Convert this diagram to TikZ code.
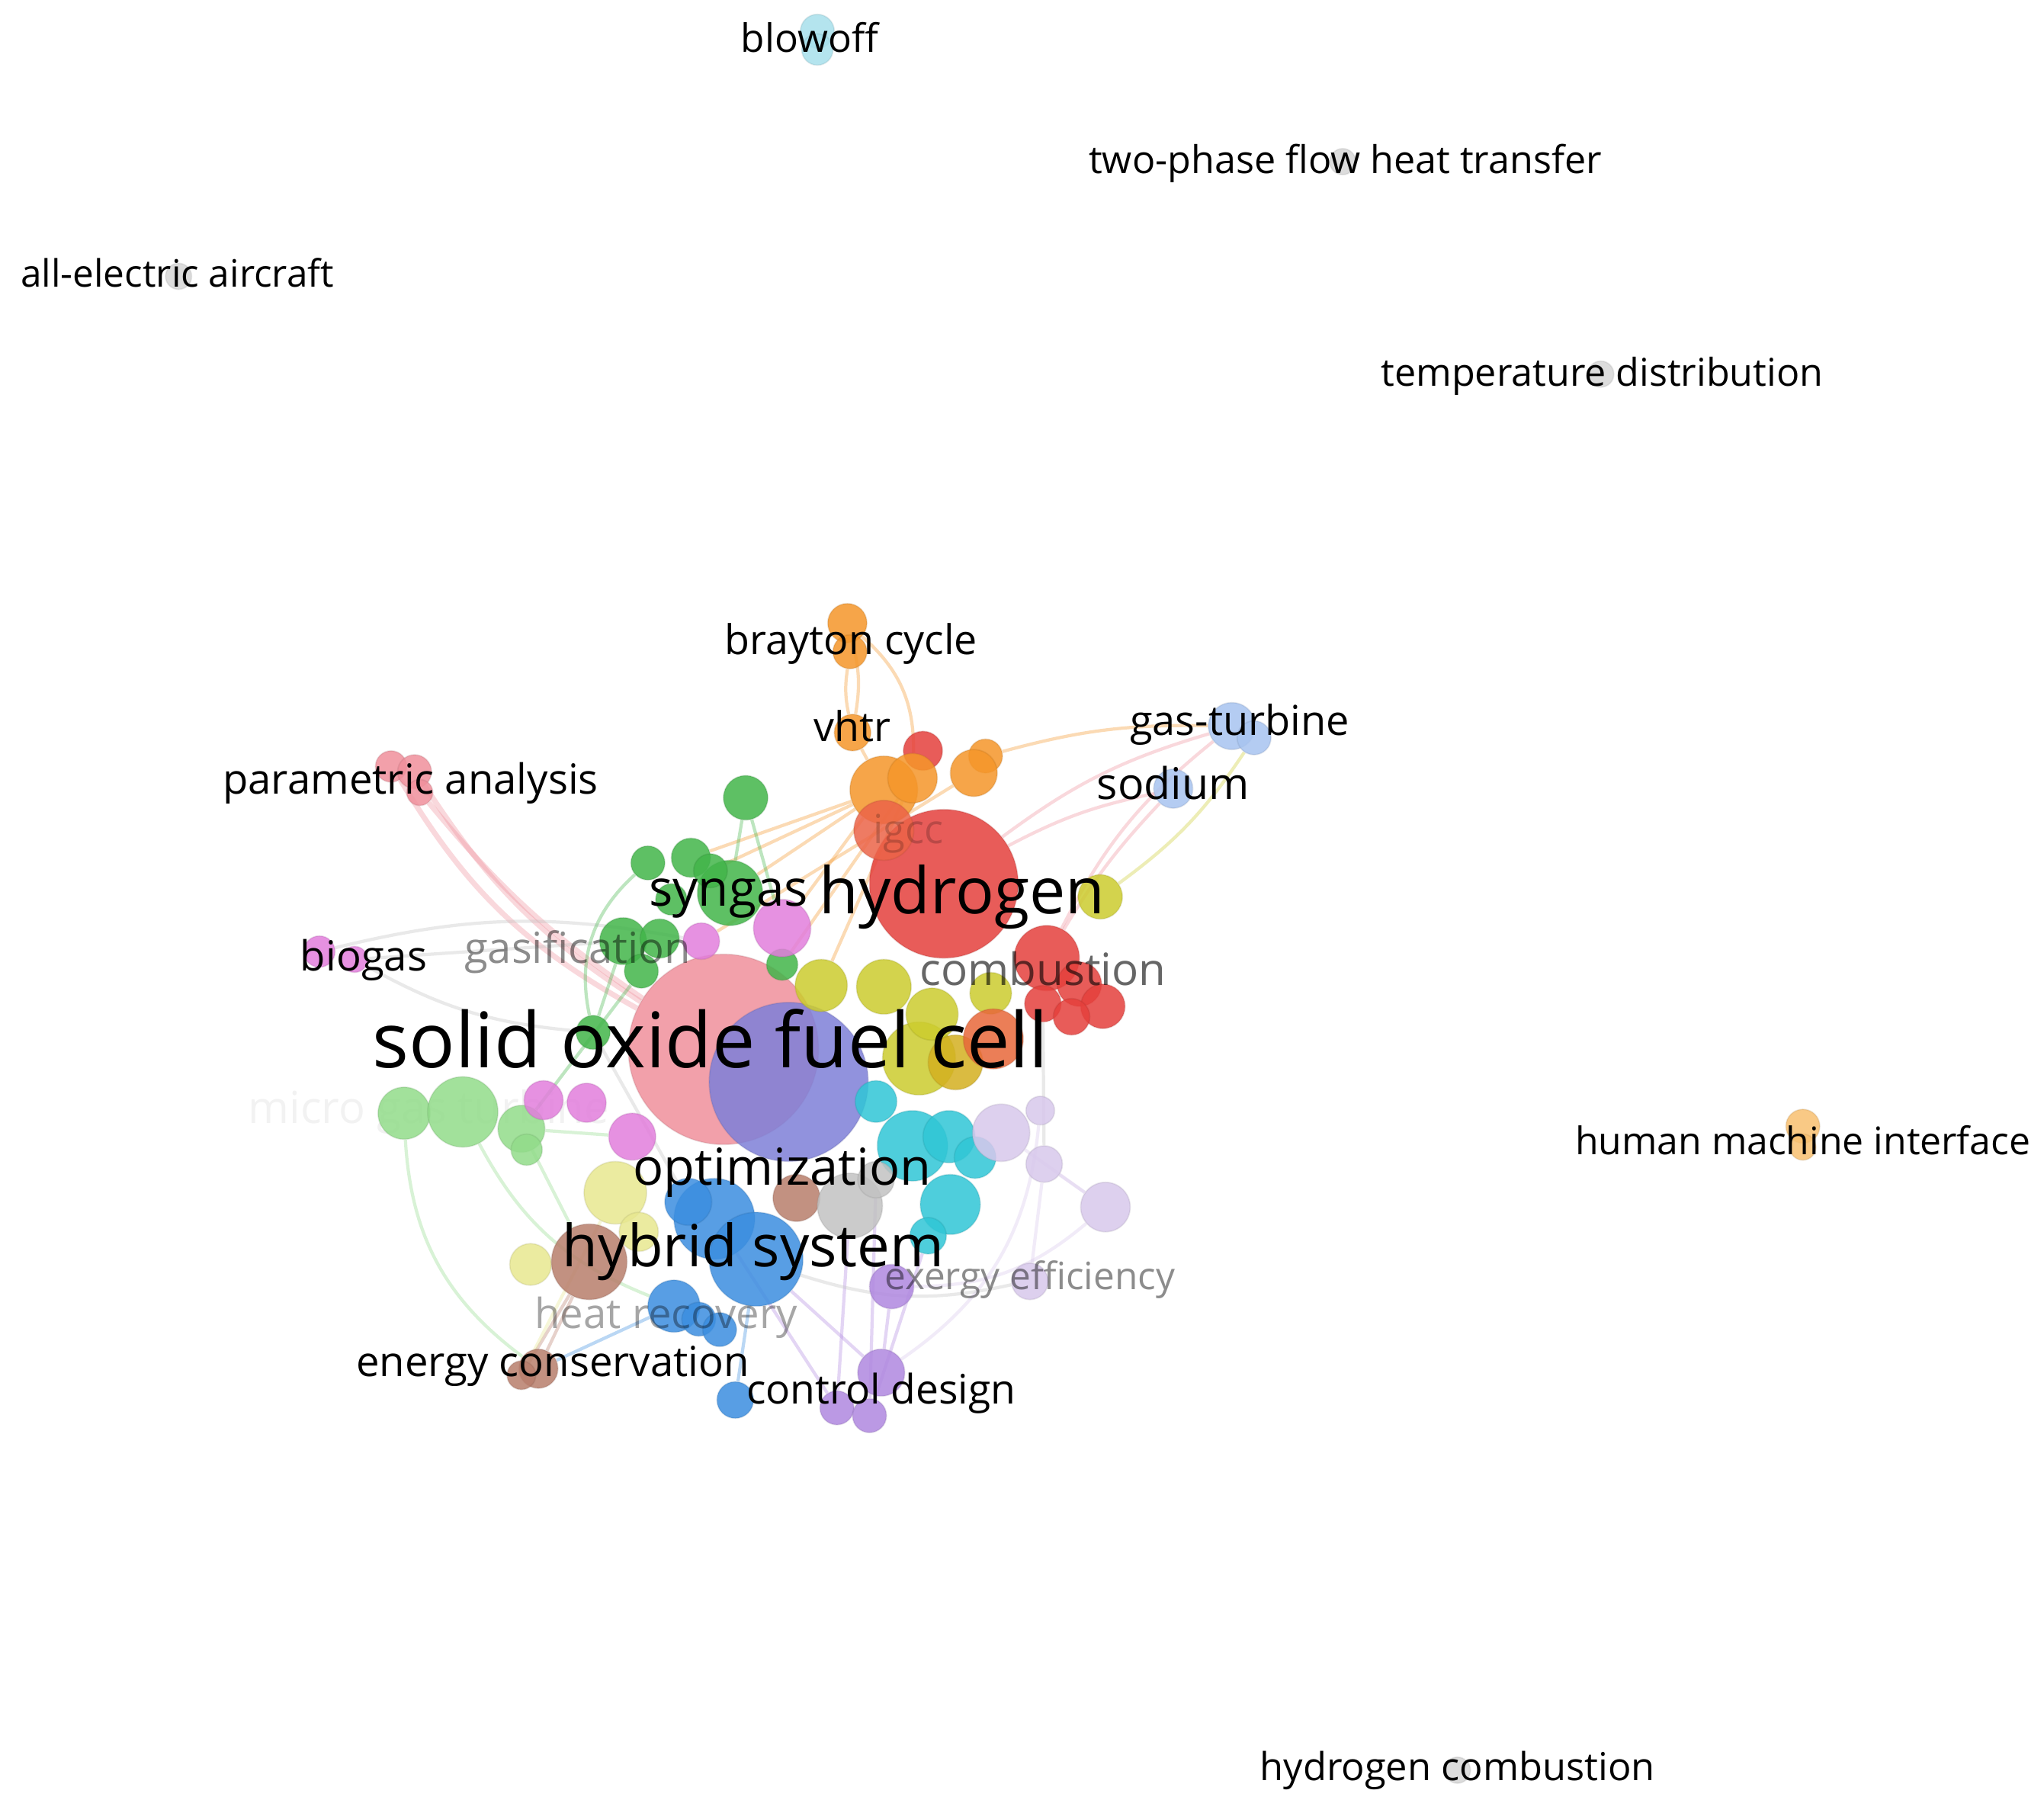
\documentclass[tikz,border=0pt]{standalone}
\usepackage{fontspec}
\setmainfont{Open Sans}
\pgfdeclarelayer{edgelayer}
\pgfsetlayers{edgelayer,main}
\definecolor{cred}{HTML}{E5403C}
\definecolor{cro}{HTML}{E8683A}
\definecolor{cigcc}{HTML}{EC6448}
\definecolor{corange}{HTML}{F5962A}
\definecolor{cgreen}{HTML}{42B54A}
\definecolor{clgreen}{HTML}{92DC8A}
\definecolor{cpink}{HTML}{F0909C}
\definecolor{corchid}{HTML}{E27EDC}
\definecolor{cslate}{HTML}{7E80D8}
\definecolor{cyellow}{HTML}{CCCC2E}
\definecolor{cgold}{HTML}{D4B020}
\definecolor{cpaley}{HTML}{E8E890}
\definecolor{ccyan}{HTML}{30C6D6}
\definecolor{cblue}{HTML}{3B8EE0}
\definecolor{cbrown}{HTML}{B87E6C}
\definecolor{cgray}{HTML}{C2C2C2}
\definecolor{cpurple}{HTML}{B088E0}
\definecolor{clav}{HTML}{D8C8EC}
\definecolor{clblue}{HTML}{A8C4F0}
\definecolor{clcyan}{HTML}{A8E0EC}
\definecolor{cngray}{HTML}{D6D6D6}
\definecolor{chmi}{HTML}{F8C070}
\tikzset{
  bub/.style={circle, inner sep=0pt, fill=#1, fill opacity=0.85, draw=#1!70!black, draw opacity=0.2, line width=0.5pt},
  lab/.style={anchor=base, inner sep=0pt, text=black, font=\fontsize{#1}{#1}\selectfont},
  edge/.style={draw=#1, draw opacity=0.35, line width=1.2pt},
}
\newcommand\B[5]{\node[bub=#5, minimum size={#4*0.0342cm}] (#1) at (#2,#3) {};}
\begin{document}
\begin{tikzpicture}[x=0.0171cm,y=-0.0171cm]
\useasboundingbox (0,0) rectangle (1568,1383);
\begin{pgfonlayer}{edgelayer}
\fill[white] (0,0) rectangle (1568,1383);
\end{pgfonlayer}
% faint label under the bubbles
\node[lab=16.5, anchor=base west, text opacity=0.05] (lmicro) at (190,862) {micro gas turbine};
% large bubbles
\B{sofc}{555}{805}{73}{cpink}
\B{slate}{605}{830}{61}{cslate}
\B{hyd}{724}{678}{57}{cred}
% red
\B{r3}{708}{576}{15}{cred}
\B{r4}{803}{735}{25}{cred}
\B{r5}{828}{755}{17}{cred}
\B{r6}{846}{772}{17}{cred}
\B{r7}{800}{770}{14}{cred}
\B{r9}{822}{780}{14}{cred}
% orange
\B{ob1}{650}{478}{15}{corange}
\B{ob2}{652}{500}{13}{corange}
\B{ov}{654}{562}{14}{corange}
\B{o4}{678}{606}{26}{corange}
\B{o5}{700}{597}{19}{corange}
\B{o6}{756}{580}{13}{corange}
\B{o7}{747}{593}{18}{corange}
\B{r2}{678}{637}{23}{cigcc}
% yellow
\B{y5}{705}{812}{28}{cyellow}
\B{y2}{630}{756}{20}{cyellow}
\B{y3}{678}{757}{21}{cyellow}
\B{y4}{715}{778}{20}{cyellow}
\B{y7}{760}{762}{16}{cyellow}
\B{y6}{733}{815}{21}{cgold}
\B{y1}{844}{688}{17}{cyellow}
\B{r8}{762}{797}{23}{cro}
% pale yellow
\B{py1}{472}{915}{24}{cpaley}
\B{py2}{407}{970}{16}{cpaley}
\B{py3}{490}{945}{15}{cpaley}
% green
\B{g1}{572}{612}{17}{cgreen}
\B{gsy}{560}{685}{25}{cgreen}
\B{g3}{530}{658}{15}{cgreen}
\B{g4}{497}{662}{13}{cgreen}
\B{g5}{515}{690}{12}{cgreen}
\B{g6}{545}{668}{13}{cgreen}
\B{g7}{478}{722}{18}{cgreen}
\B{g8}{506}{720}{15}{cgreen}
\B{g9}{492}{745}{13}{cgreen}
\B{g10}{600}{740}{12}{cgreen}
\B{g11}{455}{792}{13}{cgreen}
% light green
\B{lg1}{310}{854}{20}{clgreen}
\B{lg2}{355}{853}{27}{clgreen}
\B{lg3}{400}{866}{18}{clgreen}
\B{lg4}{404}{882}{12}{clgreen}
% salmon (parametric analysis)
\B{pa1}{300}{588}{12}{cpink}
\B{pa2}{318}{592}{13}{cpink}
\B{pa3}{322}{608}{10}{cpink}
% orchid
\B{bg1}{245}{730}{12}{corchid}
\B{bg2}{272}{736}{10}{corchid}
\B{m1}{538}{722}{14}{corchid}
\B{m2}{600}{712}{22}{corchid}
\B{m3}{417}{844}{15}{corchid}
\B{m4}{450}{846}{15}{corchid}
\B{m5}{485}{872}{18}{corchid}
% cyan
\B{c6}{672}{845}{16}{ccyan}
\B{c1}{700}{879}{27}{ccyan}
\B{c2}{728}{872}{20}{ccyan}
\B{c3}{748}{888}{16}{ccyan}
\B{c4}{729}{924}{23}{ccyan}
\B{c5}{712}{948}{14}{ccyan}
% brown behind optimization
\B{br4}{611}{919}{18}{cbrown}
% gray
\B{gr1}{652}{925}{25}{cgray}
\B{gr2}{672}{905}{14}{cgray}
% blue
\B{b1}{548}{935}{31}{cblue}
\B{b3}{580}{966}{36}{cblue}
\B{b2}{528}{922}{18}{cblue}
\B{b4}{517}{1002}{20}{cblue}
\B{b5}{536}{1012}{13}{cblue}
\B{b6}{552}{1020}{13}{cblue}
\B{b7}{564}{1074}{14}{cblue}
% brown
\B{br1}{452}{968}{29}{cbrown}
\B{br2}{413}{1050}{15}{cbrown}
\B{br3}{400}{1055}{11}{cbrown}
% purple
\B{p1}{684}{987}{17}{cpurple}
\B{p2}{676}{1053}{18}{cpurple}
\B{p3}{642}{1080}{13}{cpurple}
\B{p4}{667}{1086}{13}{cpurple}
% lavender
\B{lv1}{768}{869}{22}{clav}
\B{lv2}{798}{852}{11}{clav}
\B{lv3}{801}{893}{14}{clav}
\B{lv4}{848}{926}{19}{clav}
\B{lv5}{790}{983}{14}{clav}
% light blue
\B{lb1}{945}{557}{18}{clblue}
\B{lb2}{962}{566}{13}{clblue}
\B{lb3}{900}{605}{15}{clblue}
% isolated
\B{bo1}{627}{24}{13}{clcyan}
\B{bo2}{627}{38}{12}{clcyan}
\B{aea}{137}{212}{10}{cngray}
\B{tp}{1030}{124}{10}{cngray}
\B{td}{1228}{287}{10}{cngray}
\B{hc}{1118}{1358}{10}{cngray}
\B{hmi1}{1383}{864}{13}{chmi}
\B{hmi2}{1383}{880}{10}{chmi}
% edges
\begin{pgfonlayer}{edgelayer}
\draw[edge=corange] (ob1) to[bend left=12] (ov);
\draw[edge=corange] (ob2) to[bend right=10] (ov);
\draw[edge=corange] (ob1) to[bend left=25] (o5);
\draw[edge=corange] (ov) -- (o4);
\draw[edge=corange] (o4) -- (gsy);
\draw[edge=corange] (o4) -- (g6);
\draw[edge=corange] (o4) -- (m2);
\draw[edge=corange] (o5) -- (g10);
\draw[edge=corange] (o5) -- (y2);
\draw[edge=corange] (o4) -- (g3);
\draw[edge=corange] (o7) -- (m1);
\draw[edge=corange] (o6) to[bend left=8] (lb1);
\draw[edge=cpink] (hyd) to[bend left=10] (lb1);
\draw[edge=cpink] (hyd) to[bend left=8] (lb3);
\draw[edge=cpink] (r4) to[bend left=12] (lb1);
\draw[edge=cpink] (r4) to[bend left=6] (lb3);
\draw[edge=cyellow] (y1) to[bend right=10] (lb2);
\draw[edge=cpink, line width=2pt] (pa1) to[bend right=15] (sofc);
\draw[edge=cpink, line width=2pt] (pa2) to[bend right=12] (sofc);
\draw[edge=cpink, line width=2pt] (pa3) to[bend right=8] (sofc);
\draw[edge=cgray] (bg2) -- (g7);
\draw[edge=cgray] (bg1) to[bend left=12] (m1);
\draw[edge=cgray] (bg2) to[bend right=12] (g11);
\draw[edge=cgreen] (g1) -- (m2);
\draw[edge=cgreen] (g1) -- (gsy);
\draw[edge=cgreen] (g7) -- (g11);
\draw[edge=cgreen] (g9) -- (lg3);
\draw[edge=cgreen] (g4) to[bend right=30] (g11);
\draw[edge=clgreen] (lg2) to[bend right=20] (b4);
\draw[edge=clgreen] (lg3) -- (br1);
\draw[edge=clgreen] (lg1) to[bend right=25] (br2);
\draw[edge=clgreen] (lg3) -- (m5);
\draw[edge=cgray] (g11) -- (b2);
\draw[edge=cbrown] (br1) -- (br2);
\draw[edge=cbrown] (br1) -- (br3);
\draw[edge=cpaley] (py1) -- (br3);
\draw[edge=cblue] (b3) -- (b7);
\draw[edge=cblue] (b4) -- (br2);
\draw[edge=cpurple] (b3) -- (p2);
\draw[edge=cpurple] (b1) -- (p3);
\draw[edge=cpurple] (gr1) -- (p3);
\draw[edge=cpurple] (gr2) -- (p4);
\draw[edge=cpurple] (p1) -- (p2);
\draw[edge=cpurple] (c5) -- (p4);
\draw[edge=clav] (lv1) -- (lv4);
\draw[edge=clav] (lv3) -- (lv4);
\draw[edge=clav] (lv3) -- (lv5);
\draw[edge=clav] (lv4) to[bend left=20] (p1);
\draw[edge=clav] (lv2) to[bend left=25] (p2);
\draw[edge=cgray] (b3) to[bend right=15] (lv5);
\draw[edge=cgray] (r7) -- (lv3);
\end{pgfonlayer}
% labels
\node[lab=14.6] (lbo) at (621,40) {blowoff};
\node[lab=14.3] (ltp) at (1032,133) {two-phase flow heat transfer};
\node[lab=14.1] (laea) at (136,220) {all-electric aircraft};
\node[lab=14.3] (ltd) at (1229,296) {temperature distribution};
\node[lab=15.3] (lbc) at (653,502) {brayton cycle};
\node[lab=15.3] (lvh) at (654,569) {vhtr};
\node[lab=15.4] (lgt) at (951,564) {gas-turbine};
\node[lab=16.3] (lna) at (900,613) {sodium};
\node[lab=15.5] (lpa) at (315,609) {parametric analysis};
\node[lab=15, text opacity=0.2] (lig) at (697,647) {igcc};
\node[lab=18.7] (lsy) at (559,695) {syngas};
\node[lab=24] (lhy) at (738,701) {hydrogen};
\node[lab=15.5] (lbi) at (279,745) {biogas};
\node[lab=16, text opacity=0.45] (lga) at (443,739) {gasification};
\node[lab=16.6, text opacity=0.6] (lco) at (800,756) {combustion};
\node[lab=28.6] (lso) at (545,819) {solid oxide fuel cell};
\node[lab=19] (lop) at (600,909) {optimization};
\node[lab=21.7] (lhs) at (578,972) {hybrid system};
\node[lab=14.1, text opacity=0.45] (lex) at (790,989) {exergy efficiency};
\node[lab=15.5, text opacity=0.35] (lhr) at (511,1019) {heat recovery};
\node[lab=15.5] (lec) at (424,1056) {energy conservation};
\node[lab=15.2] (lcd) at (676,1077) {control design};
\node[lab=14.2] (lhm) at (1383,886) {human machine interface};
\node[lab=14.4] (lhc) at (1118,1366) {hydrogen combustion};
\end{tikzpicture}
\end{document}
